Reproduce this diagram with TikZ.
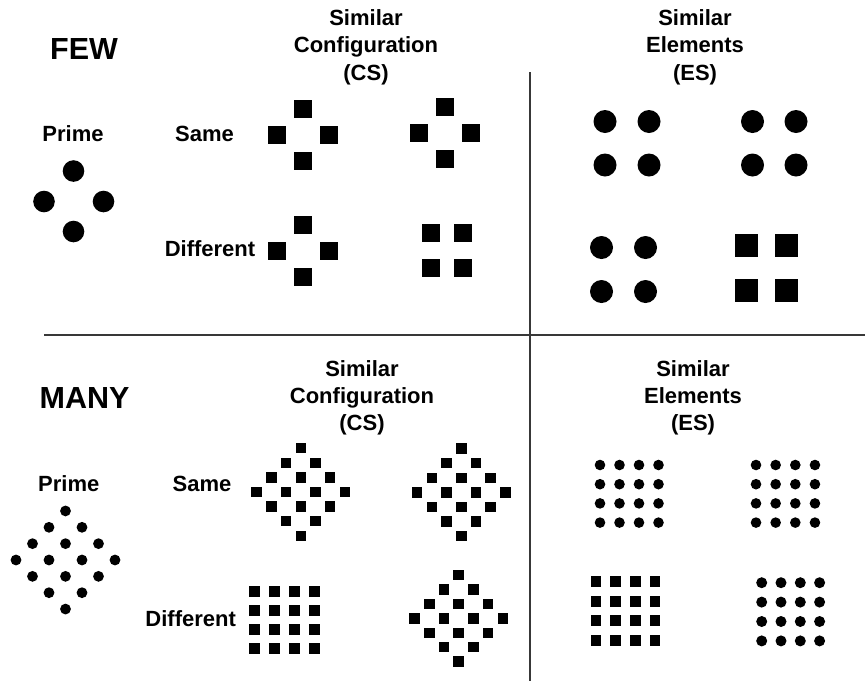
\documentclass[tikz,border=0pt]{standalone}
\usepackage{fontspec}
\setmainfont{Liberation Sans}
\newcommand\mysq[3]{\fill ({#1-(#3)/2},{#2-(#3)/2}) rectangle ++(#3,#3);}
\newcommand\mydot[3]{\fill ({#1},{#2}) circle[radius=#3pt];}
\newcommand\sqdiamond[5]{\foreach \i in {0,...,3}{\foreach \j in {0,...,3}{\mysq{#1+(\i-\j)*#3}{#2+(\i+\j-3)*#4}{#5}}}}
\newcommand\dotdiamond[5]{\foreach \i in {0,...,3}{\foreach \j in {0,...,3}{\mydot{#1+(\i-\j)*#3}{#2+(\i+\j-3)*#4}{#5}}}}
\newcommand\sqgrid[5]{\foreach \i in {0,...,3}{\foreach \j in {0,...,3}{\mysq{#1+\i*#3}{#2+\j*#4}{#5}}}}
\newcommand\dotgrid[5]{\foreach \i in {0,...,3}{\foreach \j in {0,...,3}{\mydot{#1+\i*#3}{#2+\j*#4}{#5}}}}
\begin{document}
\begin{tikzpicture}[x=1pt,y=-1pt,
  lbl/.style={font=\fontsize{22}{26}\selectfont\bfseries, anchor=base, inner sep=0pt},
  big/.style={font=\fontsize{30.5}{36}\selectfont\bfseries, anchor=base, inner sep=0pt},
  rulebar/.style={draw=black!78, line width=1.5pt}]
\useasboundingbox (0,0) rectangle (865,681);
\fill[white] (0,0) rectangle (865,681);

% dividing lines
\draw[rulebar] (44,335) -- (865,335);
\draw[rulebar] (530,72) -- (530,681);

% ---------- FEW ----------
\node[big] (few) at (84,59) {FEW};
\node[lbl] (csA1) at (366,25.5) {Similar};
\node[lbl] (csA2) at (366,52.5) {Configuration};
\node[lbl] (csA3) at (366,80) {(CS)};
\node[lbl] (esA1) at (695,25.5) {Similar};
\node[lbl] (esA2) at (695,52.5) {Elements};
\node[lbl] (esA3) at (695,80) {(ES)};
\node[lbl] (primeA) at (73,141.7) {Prime};
\node[lbl] (sameA) at (204.5,141.7) {Same};
\node[lbl] (diffA) at (210,256.5) {Different};

% prime (4 circles)
\mydot{73.5}{171}{10.8}
\mydot{44}{201.5}{10.8}
\mydot{103.5}{201.5}{10.8}
\mydot{73.5}{231.5}{10.8}

% CS same
\foreach \cx/\cy in {302.5/134.5, 445/133, 302.5/251}{
  \mysq{\cx}{\cy-26}{18}
  \mysq{\cx-26}{\cy}{18}
  \mysq{\cx+26}{\cy}{18}
  \mysq{\cx}{\cy+26}{18}
}
% CS different 2x2 squares
\foreach \x in {431,462.5}{\foreach \y in {233,268}{\mysq{\x}{\y}{18}}}

% ES circles
\foreach \x in {605,649,752.5,796}{\foreach \y in {121.5,165}{\mydot{\x}{\y}{11.5}}}
\foreach \x in {601.5,645.5}{\foreach \y in {247.5,291.5}{\mydot{\x}{\y}{11.5}}}
% ES squares
\foreach \x in {746.5,786.5}{\foreach \y in {245.5,290}{\mysq{\x}{\y}{23}}}

% ---------- MANY ----------
\node[big] (many) at (84.5,408) {MANY};
\node[lbl] (csB1) at (362,376) {Similar};
\node[lbl] (csB2) at (362,403) {Configuration};
\node[lbl] (csB3) at (362,430) {(CS)};
\node[lbl] (esB1) at (693,376) {Similar};
\node[lbl] (esB2) at (693,403) {Elements};
\node[lbl] (esB3) at (693,430) {(ES)};
\node[lbl] (primeB) at (68.8,491.7) {Prime};
\node[lbl] (sameB) at (202,491.7) {Same};
\node[lbl] (diffB) at (190.7,626) {Different};

% prime diamond of circles
\dotdiamond{65.5}{560}{16.5}{16.35}{5.4}
% CS diamonds of squares
\sqdiamond{300.8}{492}{14.7}{14.6}{10.5}
\sqdiamond{461.3}{492.3}{14.7}{14.55}{10.5}
\sqdiamond{458.7}{618.3}{14.7}{14.45}{10.5}
% CS different square grid
\sqgrid{254.5}{591.5}{20}{19}{10.5}
% ES grids
\dotgrid{600}{465}{19.5}{19.2}{5.3}
\dotgrid{756}{465}{19.65}{19.2}{5.3}
\sqgrid{596}{581.7}{19.7}{19.5}{10.7}
\dotgrid{761.7}{582.7}{19.3}{19.4}{5.5}
\end{tikzpicture}
\end{document}
